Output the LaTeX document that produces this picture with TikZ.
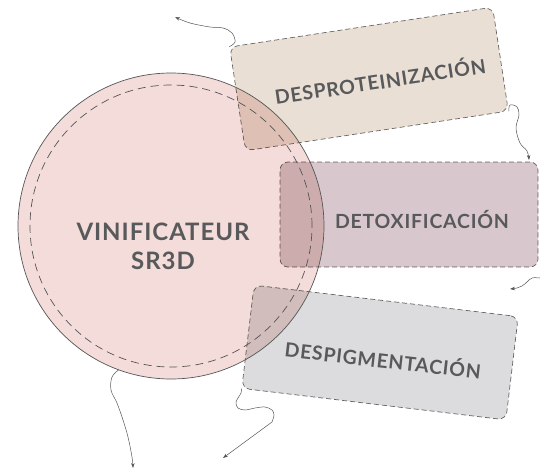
\documentclass[tikz,border=0pt]{standalone}
\usepackage{fontspec}
\setmainfont{Lato}[LetterSpace=4]
\usetikzlibrary{arrows.meta}
\definecolor{txt}{HTML}{58595B}
\definecolor{circfill}{HTML}{F3DCD9}
\definecolor{protfill}{HTML}{EADFD5}
\definecolor{detoxfill}{HTML}{D8C8CD}
\definecolor{pigfill}{HTML}{DCDCDE}
\definecolor{edge}{HTML}{555555}
\definecolor{dashgray}{HTML}{6E6E6E}
\tikzset{
  procbox/.style={draw=dashgray, line width=0.7pt, dash pattern=on 5pt off 3pt,
    rounded corners=8pt, blend mode=multiply, inner sep=0pt},
  lbl/.style={text=txt, font=\bfseries\fontsize{19.5}{22}\selectfont, inner sep=0pt},
  biglbl/.style={text=txt, font=\bfseries\fontsize{24}{29}\selectfont, align=center, inner sep=0pt},
  squig/.style={draw=edge, line width=0.5pt, -{Stealth[length=5pt,width=3.5pt]}},
}
\begin{document}
\begin{tikzpicture}[x=1pt,y=-1pt]
\useasboundingbox (0,0) rectangle (540,471);
% main circle
\node[circle, minimum size=306pt, fill=circfill, inner sep=0pt] (vin) at (171,226) {};
% process boxes
\node[procbox, fill=protfill, minimum width=266pt, minimum height=105pt, rotate=8.6] (prot) at (369,79) {};
\node[procbox, fill=detoxfill, minimum width=258pt, minimum height=105pt] (detox) at (409,214.5) {};
\node[procbox, fill=pigfill, minimum width=266pt, minimum height=104pt, rotate=-6.8] (pig) at (380,352.5) {};
% circle outlines on top
\draw[edge, line width=0.7pt] (vin.center) circle[radius=153pt];
\draw[edge, line width=0.7pt, dash pattern=on 8pt off 5pt] (vin.center) circle[radius=141pt];
% labels
\node[biglbl] (vinlbl) at (163,246) {VINIFICATEUR\\SR3D};
\node[lbl, rotate=8.6] (protlbl) at (380,80) {DESPROTEINIZACIÓN};
\node[lbl] (detoxlbl) at (422,220) {DETOXIFICACIÓN};
\node[lbl, rotate=-6.5] (piglbl) at (383,359) {DESPIGMENTACIÓN};
% free ends
\coordinate (a1) at (175,17);
\coordinate (b1) at (529,160);
\coordinate (c0) at (540,278);
\coordinate (c1) at (510,289);
\coordinate (d1) at (133,468);
\coordinate (e1) at (223,458);
% squiggly connectors
\draw[squig] plot[smooth, tension=0.6] coordinates {(prot.north west) (235,42) (232,33) (223,28) (210,27) (190,23) (a1)};
\draw[squig] plot[smooth, tension=0.6] coordinates {(prot.south east) (510,105) (517,107) (519,115) (516,128) (520,143) (527,151) (b1)};
\draw[squig] plot[smooth, tension=0.6] coordinates {(c0) (532,278) (527,282) (522,286) (517,288) (c1)};
\draw[squig] plot[smooth, tension=0.6] coordinates {(vin.250) (112,377) (111,390) (117,403) (123,420) (128,437) (132,457) (d1)};
\draw[squig] plot[smooth, tension=0.55] coordinates {(pig.south west) (241,393) (236,402) (238,408) (245,410) (255,408) (265,407) (272,410) (274,415) (272,422)} -- (e1);
\end{tikzpicture}
\end{document}
